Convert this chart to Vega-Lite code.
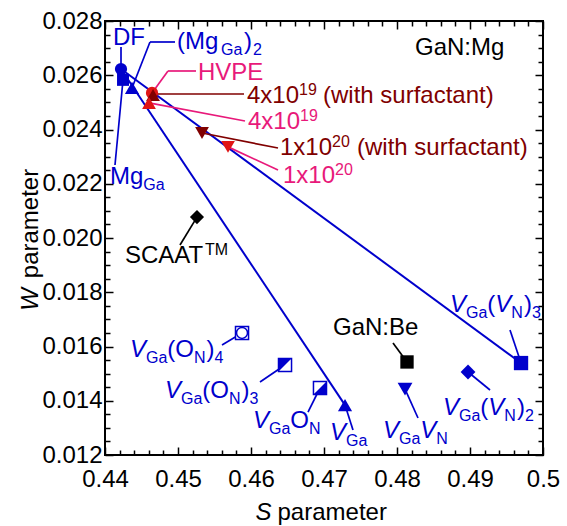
{
"$schema":"https://vega.github.io/schema/vega-lite/v6.json",
"width":438,"height":434,
"autosize":{"type":"none"},
"padding":{"left":105,"top":21,"right":24,"bottom":71},
"background":"white",
"config":{"view":{"stroke":"black","strokeWidth":2},"font":"Liberation Sans",
"axis":{"grid":false,"domain":false,"labelFont":"Liberation Sans","titleFont":"Liberation Sans","labelColor":"black","titleColor":"black","tickColor":"black","titleFontWeight":"normal","labelFontSize":24,"titleFontSize":24,"tickWidth":1.5,"labelOverlap":false,"labelFlush":false,"labelBound":false}},
"datasets":{
"points":[
{"name":"DF","S":0.44219,"W":0.02623},
{"name":"MgGa","S":0.44247,"W":0.02583},
{"name":"MgGa2","S":0.4437,"W":0.02553},
{"name":"HVPE","S":0.44644,"W":0.02535},
{"name":"4e19s","S":0.44658,"W":0.02527},
{"name":"4e19","S":0.44603,"W":0.02498},
{"name":"1e20s","S":0.45329,"W":0.02387},
{"name":"1e20","S":0.45685,"W":0.02336},
{"name":"SCAAT","S":0.4526,"W":0.02077},
{"name":"VGaON4","S":0.45877,"W":0.0165},
{"name":"VGaON3","S":0.46466,"W":0.01532},
{"name":"VGaON","S":0.46945,"W":0.01447},
{"name":"VGa","S":0.47288,"W":0.01384},
{"name":"GaNBe","S":0.48137,"W":0.01543},
{"name":"VGaVN","S":0.4811,"W":0.01443},
{"name":"VGaVN2","S":0.48973,"W":0.01506},
{"name":"VGaVN3","S":0.49699,"W":0.01539}
],
"fits":[
{"S":0.44219,"W":0.02623,"S2":0.49699,"W2":0.01539},
{"S":0.44219,"W":0.02623,"S2":0.47288,"W2":0.01384}
],
"leaders":[
{"S":0.442192,"W":0.027041,"S2":0.442192,"W2":0.02623,"g":"calc"},
{"S":0.446164,"W":0.027226,"S2":0.449589,"W2":0.027226,"g":"calc"},
{"S":0.446164,"W":0.027226,"S2":0.443699,"W2":0.02553,"g":"calc"},
{"S":0.442466,"W":0.025825,"S2":0.44137,"W2":0.022691,"g":"calc"},
{"S":0.456027,"W":0.016055,"S2":0.45877,"W2":0.0165,"g":"calc"},
{"S":0.461233,"W":0.014691,"S2":0.46466,"W2":0.01532,"g":"calc"},
{"S":0.467808,"W":0.013585,"S2":0.46945,"W2":0.01447,"g":"calc"},
{"S":0.473973,"W":0.012922,"S2":0.47288,"W2":0.01384,"g":"calc"},
{"S":0.482877,"W":0.013364,"S2":0.4811,"W2":0.01443,"g":"calc"},
{"S":0.49274,"W":0.014396,"S2":0.48973,"W2":0.01506,"g":"calc"},
{"S":0.495479,"W":0.016608,"S2":0.49699,"W2":0.01539,"g":"calc"},
{"S":0.479452,"W":0.016129,"S2":0.48137,"W2":0.01543,"g":"other"},
{"S":0.450274,"W":0.019742,"S2":0.4526,"W2":0.02077,"g":"other"},
{"S":0.44863,"W":0.026157,"S2":0.452466,"W2":0.026157,"g":"sample"},
{"S":0.44863,"W":0.026157,"S2":0.446438,"W2":0.025346,"g":"sample"},
{"S":0.446027,"W":0.02498,"S2":0.459178,"W2":0.024313,"g":"sample"},
{"S":0.45685,"W":0.02336,"S2":0.463699,"W2":0.022507,"g":"sample"},
{"S":0.446575,"W":0.025309,"S2":0.459041,"W2":0.025309,"g":"surf"},
{"S":0.45329,"W":0.02387,"S2":0.463699,"W2":0.023318,"g":"surf"}
],
"mainText":[
{"S":0.441096,"W":0.027115,"t":"DF","g":"calc"},
{"S":0.449863,"W":0.026968,"t":"(Mg","g":"calc"},
{"S":0.459041,"W":0.026968,"t":")","g":"calc"},
{"S":0.440685,"W":0.021991,"t":"Mg","g":"calc"},
{"S":0.448534,"W":0.015613,"t":"(O","g":"calc"},
{"S":0.453918,"W":0.015613,"t":")","g":"calc"},
{"S":0.453329,"W":0.014101,"t":"(O","g":"calc"},
{"S":0.458712,"W":0.014101,"t":")","g":"calc"},
{"S":0.465384,"W":0.012995,"t":"O","g":"calc"},
{"S":0.491411,"W":0.013475,"t":"(","g":"calc"},
{"S":0.496425,"W":0.013475,"t":")","g":"calc"},
{"S":0.49237,"W":0.017272,"t":"(","g":"calc"},
{"S":0.497384,"W":0.017272,"t":")","g":"calc"},
{"S":0.45274,"W":0.025825,"t":"HVPE","g":"sample"},
{"S":0.459589,"W":0.024018,"t":"4x10","g":"sample"},
{"S":0.464384,"W":0.022028,"t":"1x10","g":"sample"},
{"S":0.459452,"W":0.024977,"t":"4x10","g":"surf"},
{"S":0.469863,"W":0.024977,"t":"(with surfactant)","g":"surf"},
{"S":0.463973,"W":0.02306,"t":"1x10","g":"surf"},
{"S":0.474521,"W":0.02306,"t":"(with surfactant)","g":"surf"},
{"S":0.44274,"W":0.019078,"t":"SCAAT","g":"other"},
{"S":0.482466,"W":0.026747,"t":"GaN:Mg","g":"other"},
{"S":0.471233,"W":0.016424,"t":"GaN:Be","g":"other"}
],
"italText":[
{"S":0.443425,"W":0.015613,"t":"V","g":"calc"},
{"S":0.448219,"W":0.014101,"t":"V","g":"calc"},
{"S":0.460274,"W":0.012995,"t":"V","g":"calc"},
{"S":0.470822,"W":0.012553,"t":"V","g":"calc"},
{"S":0.478082,"W":0.012627,"t":"V","g":"calc"},
{"S":0.483192,"W":0.012627,"t":"V","g":"calc"},
{"S":0.486301,"W":0.013475,"t":"V","g":"calc"},
{"S":0.492507,"W":0.013475,"t":"V","g":"calc"},
{"S":0.48726,"W":0.017272,"t":"V","g":"calc"},
{"S":0.493466,"W":0.017272,"t":"V","g":"calc"}
],
"subText":[
{"S":0.45589,"W":0.026968,"t":"Ga","g":"calc"},
{"S":0.460274,"W":0.026968,"t":"2","g":"calc"},
{"S":0.445247,"W":0.021991,"t":"Ga","g":"calc"},
{"S":0.445616,"W":0.015613,"t":"Ga","g":"calc"},
{"S":0.452192,"W":0.015613,"t":"N","g":"calc"},
{"S":0.455014,"W":0.015613,"t":"4","g":"calc"},
{"S":0.450411,"W":0.014101,"t":"Ga","g":"calc"},
{"S":0.456986,"W":0.014101,"t":"N","g":"calc"},
{"S":0.459808,"W":0.014101,"t":"3","g":"calc"},
{"S":0.462466,"W":0.012995,"t":"Ga","g":"calc"},
{"S":0.467945,"W":0.012995,"t":"N","g":"calc"},
{"S":0.473014,"W":0.012553,"t":"Ga","g":"calc"},
{"S":0.480274,"W":0.012627,"t":"Ga","g":"calc"},
{"S":0.485384,"W":0.012627,"t":"N","g":"calc"},
{"S":0.488493,"W":0.013475,"t":"Ga","g":"calc"},
{"S":0.494699,"W":0.013475,"t":"N","g":"calc"},
{"S":0.497521,"W":0.013475,"t":"2","g":"calc"},
{"S":0.489452,"W":0.017272,"t":"Ga","g":"calc"},
{"S":0.495658,"W":0.017272,"t":"N","g":"calc"},
{"S":0.498479,"W":0.017272,"t":"3","g":"calc"}
],
"supText":[
{"S":0.466712,"W":0.024018,"t":"19","g":"sample"},
{"S":0.471507,"W":0.022028,"t":"20","g":"sample"},
{"S":0.466575,"W":0.024977,"t":"19","g":"surf"},
{"S":0.471096,"W":0.02306,"t":"20","g":"surf"},
{"S":0.453699,"W":0.019078,"t":"TM","g":"other"}
]
},
"encoding":{
"x":{"field":"S","type":"quantitative","scale":{"domain":[0.44,0.5],"nice":false,"zero":false},"axis":null},
"y":{"field":"W","type":"quantitative","scale":{"domain":[0.012,0.028],"nice":false,"zero":false},"axis":null}
},
"resolve":{"scale":{"x":"shared","y":"shared","color":"shared"},"axis":{"x":"independent","y":"independent"}},
"layer":[
{"data":{"name":"fits"},"mark":{"type":"rule","color":"#0000cc","strokeWidth":2},
"encoding":{
"x":{"field":"S","type":"quantitative","scale":{"domain":[0.44,0.5],"nice":false,"zero":false},
"axis":{"orient":"bottom","values":[0.44,0.45,0.46,0.47,0.48,0.49,0.5],"labelExpr":"toString(round(datum.value*100)/100)","ticks":false,"labelPadding":12,"title":"parameter","titleAlign":"left","titleBaseline":"alphabetic","titleX":172,"titleY":64}},
"y":{"field":"W","type":"quantitative","scale":{"domain":[0.012,0.028],"nice":false,"zero":false},
"axis":{"orient":"left","values":[0.012,0.014,0.016,0.018,0.02,0.022,0.024,0.026,0.028],"format":".3f","ticks":false,"labelPadding":3,"title":"parameter","titleAngle":270,"titleAlign":"center","titleBaseline":"alphabetic","titleX":-68,"titleY":202}},
"x2":{"field":"S2"},"y2":{"field":"W2"}}},
{"data":{"name":"leaders"},"mark":{"type":"rule","strokeWidth":1.7},
"encoding":{
"x":{"field":"S","type":"quantitative","scale":{"domain":[0.44,0.5],"nice":false,"zero":false},
"axis":{"orient":"bottom","values":[0.44,0.45,0.46,0.47,0.48,0.49,0.5],"labels":false,"tickSize":-8,"title":"S","titleFontStyle":"italic","titleAlign":"left","titleBaseline":"alphabetic","titleX":150,"titleY":64}},
"y":{"field":"W","type":"quantitative","scale":{"domain":[0.012,0.028],"nice":false,"zero":false},
"axis":{"orient":"left","values":[0.012,0.014,0.016,0.018,0.02,0.022,0.024,0.026,0.028],"labels":false,"tickSize":-8,"title":"W","titleFontStyle":"italic","titleAngle":270,"titleAlign":"center","titleBaseline":"alphabetic","titleX":-68,"titleY":278}},
"x2":{"field":"S2"},"y2":{"field":"W2"},
"color":{"field":"g","type":"nominal","scale":{"domain":["calc","sample","surf","other"],"range":["#0000cc","#e8197a","#800000","#000000"]},"legend":null}}},
{"data":{"name":"points"},"transform":[{"filter":{"field":"name","oneOf":["MgGa"]}}],
"mark":{"type":"point","shape":"square","filled":true,"opacity":1,"size":144,"color":"#0000cc"},
"encoding":{
"x":{"field":"S","type":"quantitative","scale":{"domain":[0.44,0.5],"nice":false,"zero":false},
"axis":{"orient":"bottom","values":[0.442,0.444,0.446,0.448,0.452,0.454,0.456,0.458,0.462,0.464,0.466,0.468,0.472,0.474,0.476,0.478,0.482,0.484,0.486,0.488,0.492,0.494,0.496,0.498],"labels":false,"tickSize":-5,"title":null}},
"y":{"field":"W","type":"quantitative","scale":{"domain":[0.012,0.028],"nice":false,"zero":false},
"axis":{"orient":"left","values":[0.0125,0.013,0.0135,0.0145,0.015,0.0155,0.0165,0.017,0.0175,0.0185,0.019,0.0195,0.0205,0.021,0.0215,0.0225,0.023,0.0235,0.0245,0.025,0.0255,0.0265,0.027,0.0275],"labels":false,"tickSize":-5,"title":null}}}},
{"data":{"name":"points"},"transform":[{"filter":{"field":"name","oneOf":["DF"]}}],
"mark":{"type":"point","shape":"circle","filled":true,"opacity":1,"size":150,"color":"#0000cc"},
"encoding":{
"x":{"field":"S","type":"quantitative","scale":{"domain":[0.44,0.5],"nice":false,"zero":false},
"axis":{"orient":"top","values":[0.44,0.45,0.46,0.47,0.48,0.49,0.5],"labels":false,"tickSize":-8,"title":null}},
"y":{"field":"W","type":"quantitative","scale":{"domain":[0.012,0.028],"nice":false,"zero":false},
"axis":{"orient":"right","values":[0.012,0.014,0.016,0.018,0.02,0.022,0.024,0.026,0.028],"labels":false,"tickSize":-8,"title":null}}}},
{"data":{"name":"points"},"transform":[{"filter":{"field":"name","oneOf":["MgGa2","VGa"]}}],
"mark":{"type":"point","shape":"triangle-up","filled":true,"opacity":1,"size":200,"color":"#0000cc"},
"encoding":{
"x":{"field":"S","type":"quantitative","scale":{"domain":[0.44,0.5],"nice":false,"zero":false},
"axis":{"orient":"top","values":[0.442,0.444,0.446,0.448,0.452,0.454,0.456,0.458,0.462,0.464,0.466,0.468,0.472,0.474,0.476,0.478,0.482,0.484,0.486,0.488,0.492,0.494,0.496,0.498],"labels":false,"tickSize":-5,"title":null}},
"y":{"field":"W","type":"quantitative","scale":{"domain":[0.012,0.028],"nice":false,"zero":false},
"axis":{"orient":"right","values":[0.0125,0.013,0.0135,0.0145,0.015,0.0155,0.0165,0.017,0.0175,0.0185,0.019,0.0195,0.0205,0.021,0.0215,0.0225,0.023,0.0235,0.0245,0.025,0.0255,0.0265,0.027,0.0275],"labels":false,"tickSize":-5,"title":null}}}},
{"data":{"name":"points"},"transform":[{"filter":{"field":"name","oneOf":["HVPE"]}}],
"mark":{"type":"point","shape":"circle","filled":true,"opacity":1,"size":150,"color":"#e01515"}},
{"data":{"name":"points"},"transform":[{"filter":{"field":"name","oneOf":["4e19s"]}}],
"mark":{"type":"point","shape":"triangle-up","filled":true,"opacity":1,"size":190,"color":"#800000"}},
{"data":{"name":"points"},"transform":[{"filter":{"field":"name","oneOf":["4e19"]}}],
"mark":{"type":"point","shape":"triangle-up","filled":true,"opacity":1,"size":190,"color":"#e01515"}},
{"data":{"name":"points"},"transform":[{"filter":{"field":"name","oneOf":["1e20s"]}}],
"mark":{"type":"point","shape":"triangle-down","filled":true,"opacity":1,"size":190,"color":"#800000"}},
{"data":{"name":"points"},"transform":[{"filter":{"field":"name","oneOf":["1e20"]}}],
"mark":{"type":"point","shape":"triangle-down","filled":true,"opacity":1,"size":190,"color":"#e01515"}},
{"data":{"name":"points"},"transform":[{"filter":{"field":"name","oneOf":["SCAAT"]}}],
"mark":{"type":"point","shape":"diamond","filled":true,"opacity":1,"size":200,"color":"#000000"}},
{"data":{"name":"points"},"transform":[{"filter":{"field":"name","oneOf":["VGaON4","VGaON3","VGaON"]}}],
"mark":{"type":"point","shape":"square","filled":false,"fill":"white","fillOpacity":1,"stroke":"#0000cc","strokeWidth":1.5,"opacity":1,"size":170}},
{"data":{"name":"points"},"transform":[{"filter":{"field":"name","oneOf":["VGaON4"]}}],
"mark":{"type":"point","shape":"circle","filled":false,"fill":"white","fillOpacity":1,"stroke":"#0000cc","strokeWidth":1.5,"opacity":1,"size":120}},
{"data":{"name":"points"},"transform":[{"filter":{"field":"name","oneOf":["VGaON3"]}}],
"mark":{"type":"point","shape":"M-1,-1L1,-1L-1,1Z","filled":true,"opacity":1,"size":170,"color":"#0000cc"}},
{"data":{"name":"points"},"transform":[{"filter":{"field":"name","oneOf":["VGaON"]}}],
"mark":{"type":"point","shape":"M1,-1L1,1L-1,1Z","filled":true,"opacity":1,"size":170,"color":"#0000cc"}},
{"data":{"name":"points"},"transform":[{"filter":{"field":"name","oneOf":["GaNBe"]}}],
"mark":{"type":"point","shape":"square","filled":true,"opacity":1,"size":178,"color":"#000000"}},
{"data":{"name":"points"},"transform":[{"filter":{"field":"name","oneOf":["VGaVN"]}}],
"mark":{"type":"point","shape":"triangle-down","filled":true,"opacity":1,"size":220,"color":"#0000cc"}},
{"data":{"name":"points"},"transform":[{"filter":{"field":"name","oneOf":["VGaVN2"]}}],
"mark":{"type":"point","shape":"diamond","filled":true,"opacity":1,"size":220,"color":"#0000cc"}},
{"data":{"name":"points"},"transform":[{"filter":{"field":"name","oneOf":["VGaVN3"]}}],
"mark":{"type":"point","shape":"square","filled":true,"opacity":1,"size":205,"color":"#0000cc"}},
{"data":{"name":"mainText"},"mark":{"type":"text","align":"left","baseline":"alphabetic","fontSize":24},
"encoding":{"text":{"field":"t"},"color":{"field":"g","type":"nominal","scale":{"domain":["calc","sample","surf","other"],"range":["#0000cc","#e8197a","#800000","#000000"]},"legend":null}}},
{"data":{"name":"italText"},"mark":{"type":"text","align":"left","baseline":"alphabetic","fontSize":24,"fontStyle":"italic"},
"encoding":{"text":{"field":"t"},"color":{"field":"g","type":"nominal","scale":{"domain":["calc","sample","surf","other"],"range":["#0000cc","#e8197a","#800000","#000000"]},"legend":null}}},
{"data":{"name":"subText"},"mark":{"type":"text","align":"left","baseline":"alphabetic","fontSize":16,"dy":6},
"encoding":{"text":{"field":"t"},"color":{"field":"g","type":"nominal","scale":{"domain":["calc","sample","surf","other"],"range":["#0000cc","#e8197a","#800000","#000000"]},"legend":null}}},
{"data":{"name":"supText"},"mark":{"type":"text","align":"left","baseline":"alphabetic","fontSize":16,"dy":-8},
"encoding":{"text":{"field":"t"},"color":{"field":"g","type":"nominal","scale":{"domain":["calc","sample","surf","other"],"range":["#0000cc","#e8197a","#800000","#000000"]},"legend":null}}}
]
}
